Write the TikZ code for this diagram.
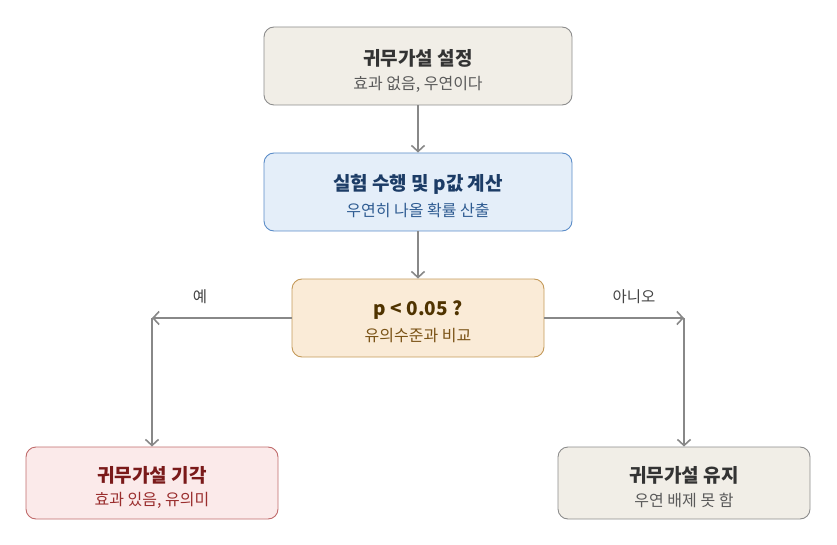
\documentclass[tikz,border=0pt]{standalone}
\usepackage{fontspec}
\setmainfont{Noto Sans CJK KR}
\usetikzlibrary{arrows.meta}
\definecolor{neutralfill}{HTML}{F1EEE7}
\definecolor{neutraldraw}{HTML}{8C8C8C}
\definecolor{neutraltext}{HTML}{333333}
\definecolor{neutralsub}{HTML}{5A5A5A}
\definecolor{bluefill}{HTML}{E4EEF9}
\definecolor{bluedraw}{HTML}{5B8CC8}
\definecolor{bluetext}{HTML}{1C3C66}
\definecolor{bluesub}{HTML}{2F5C92}
\definecolor{orangefill}{HTML}{FAEBD7}
\definecolor{orangedraw}{HTML}{C49A5A}
\definecolor{orangetext}{HTML}{4F3300}
\definecolor{orangesub}{HTML}{7A5316}
\definecolor{redfill}{HTML}{FBEAEA}
\definecolor{reddraw}{HTML}{C06B6B}
\definecolor{redtext}{HTML}{7A1A1A}
\definecolor{redsub}{HTML}{9A2E2E}
\definecolor{arrowgray}{HTML}{888888}
\definecolor{labeltext}{HTML}{444444}
\tikzset{
  box/.style={draw, rounded corners=10pt, line width=0.9pt, inner sep=0pt},
  widebox/.style={box, minimum width=308pt, minimum height=78pt},
  decbox/.style={box, minimum width=252pt, minimum height=78pt},
  endbox/.style={box, minimum width=252pt, minimum height=72pt},
  ttl/.style={font=\fontsize{19}{21}\selectfont\bfseries, inner sep=0pt},
  sub/.style={font=\fontsize{16}{18}\selectfont, inner sep=0pt},
  flow/.style={draw=arrowgray, line width=1.8pt, -{Straight Barb[length=6pt,width=13pt,line width=1.6pt]}},
  edgelabel/.style={font=\fontsize{15.5}{17}\selectfont, text=labeltext, inner sep=0pt}
}
\begin{document}
\begin{tikzpicture}[x=1pt,y=-1pt]
\useasboundingbox (0,0) rectangle (837,545);
% boxes
\node[widebox, fill=neutralfill, draw=neutraldraw] (h0) at (418,66) {};
\node[ttl, text=neutraltext] (h0t) at (418,58) {귀무가설 설정};
\node[sub, text=neutralsub] (h0s) at (418,84) {효과 없음, 우연이다};

\node[widebox, fill=bluefill, draw=bluedraw] (exp) at (418,192) {};
\node[ttl, text=bluetext] (expt) at (418,184) {실험 수행 및 p값 계산};
\node[sub, text=bluesub] (exps) at (418,210) {우연히 나올 확률 산출};

\node[decbox, fill=orangefill, draw=orangedraw] (dec) at (418,318) {};
\node[ttl, text=orangetext] (dect) at (418,310) {p < 0.05 ?};
\node[sub, text=orangesub] (decs) at (418,336) {유의수준과 비교};

\node[endbox, fill=redfill, draw=reddraw] (rej) at (152,483) {};
\node[ttl, text=redtext] (rejt) at (152,475) {귀무가설 기각};
\node[sub, text=redsub] (rejs) at (152,500) {효과 있음, 유의미};

\node[endbox, fill=neutralfill, draw=neutraldraw] (keep) at (684,483) {};
\node[ttl, text=neutraltext] (keept) at (684,475) {귀무가설 유지};
\node[sub, text=neutralsub] (keeps) at (684,500) {우연 배제 못 함};

% connectors
\coordinate (cl) at (152,318);
\coordinate (cr) at (684,318);
\draw[flow] (h0.south) -- (exp.north);
\draw[flow] (exp.south) -- (dec.north);
\draw[flow] (dec.west) -- (cl);
\draw[flow] (cl) -- (rej.north);
\draw[flow] (dec.east) -- (cr);
\draw[flow] (cr) -- (keep.north);

\node[edgelabel] (yes) at (200,297) {예};
\node[edgelabel] (no) at (634,297) {아니오};
\end{tikzpicture}
\end{document}
